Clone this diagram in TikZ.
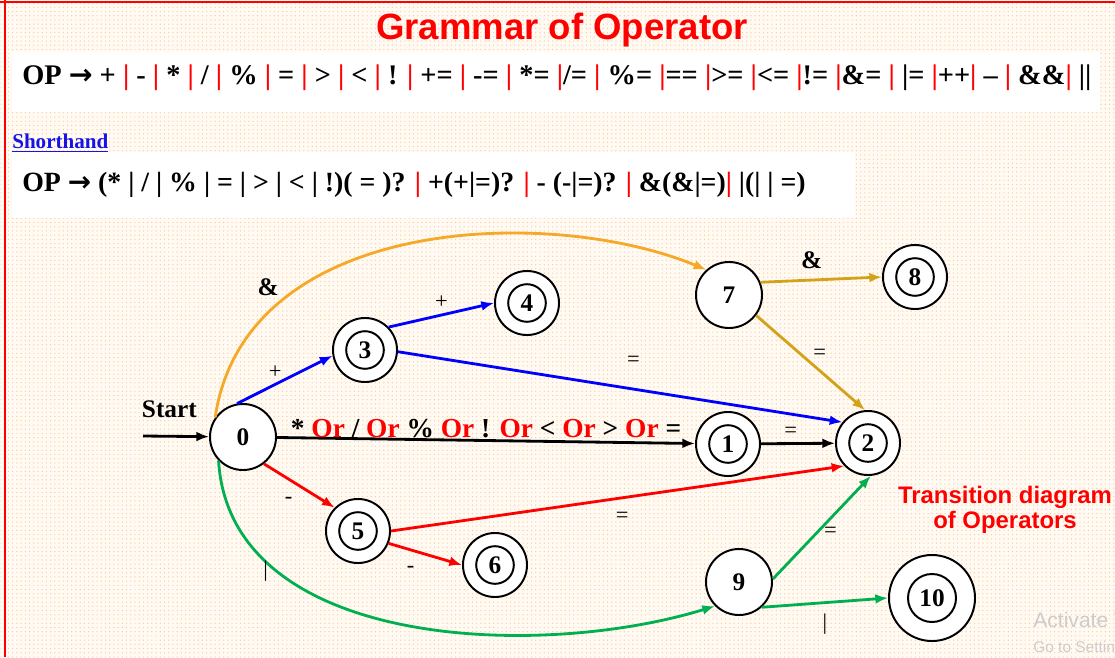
\documentclass[tikz,border=0pt]{standalone}
\usepackage{fontspec}
\setmainfont{Liberation Serif}
\setsansfont{Liberation Sans}
\newfontfamily\arrowfont{DejaVu Sans}
\usetikzlibrary{positioning,arrows.meta,patterns}

\definecolor{opred}{RGB}{255,0,0}
\definecolor{opblue}{RGB}{0,0,255}
\definecolor{opgreen}{RGB}{0,176,80}
\definecolor{oporange}{RGB}{246,168,40}
\definecolor{opgold}{RGB}{212,162,26}
\definecolor{opcream}{RGB}{255,251,244}
\definecolor{oplink}{RGB}{20,20,230}

\newcommand{\rb}{\textcolor{opred}{|}}
\newcommand{\orw}{\textcolor{opred}{Or}}
\newcommand{\opto}{{\arrowfont\bfseries →}}

\begin{document}
\begin{tikzpicture}[x=0.025cm, y=-0.025cm,
  state/.style={circle, draw, line width=1.4pt, fill=white, inner sep=0pt,
                minimum size=1.65cm, font=\fontsize{18}{18}\selectfont\bfseries},
  accept/.style={state, minimum size=1.6cm,
                 path picture={\draw[line width=1.4pt] (path picture bounding box.center) circle (0.47cm);}},
  bigaccept/.style={state, minimum size=2.15cm,
                 path picture={\draw[line width=1.4pt] (path picture bounding box.center) circle (0.6cm);}},
  arr/.style={-{Latex[length=9pt,width=7pt]}, line width=2pt},
  lbl/.style={font=\fontsize{16}{16}\selectfont, text=black, inner sep=1pt},
  blbl/.style={font=\fontsize{18}{18}\selectfont\bfseries, text=black, inner sep=1pt},
  gram/.style={anchor=west, inner sep=0pt, font=\fontsize{20.2}{22}\selectfont\bfseries},
]
\useasboundingbox (0,0) rectangle (1115,657);
\clip (0,0) rectangle (1115,657);

% background, white strips and red frame
\fill[opcream] (0,0) rectangle (1115,657);
\fill[pattern=dots, pattern color=orange!40] (0,0) rectangle (1115,657);
\fill[white] (12,52) rectangle (1100,112);
\fill[white] (12,152) rectangle (855,218);
\draw[opred, line width=1.5pt] (5,0) -- (5,657);
\draw[opred, line width=1.5pt] (0,2) -- (1115,2);

% headings and grammar
\node[font=\fontsize{26}{26}\selectfont\sffamily\bfseries, text=opred] (title) at (562,30) {Grammar of Operator};
\node[gram] (grammar) at (22,78) {OP \opto{} + \rb{} - \rb{} * \rb{} / \rb{} \% \rb{} = \rb{} > \rb{} < \rb{} ! \rb{} += \rb{} -= \rb{} *= \rb/= \rb{} \%= \rb== \rb>= \rb<= \rb!= \rb\&= \rb{} |= \rb++\rb{} -- \rb{} \&\&\rb{} ||};
\node[anchor=west, inner sep=0pt, font=\fontsize{15}{15}\selectfont\bfseries, text=oplink] (short) at (12,143) {\underline{Shorthand}};
\node[gram, font=\fontsize{19.8}{22}\selectfont\bfseries] (shorthand) at (22,185) {OP \opto{} (* | / | \% | = | > | < | !)( = )? \rb{} +(+|=)? \rb{} - (-|=)? \rb{} \&(\&|=)\rb{} |(| | =)};
\node[font=\fontsize{17}{18}\selectfont\sffamily\bfseries, text=opred, align=center] (caption) at (1005,510) {Transition diagram\\of Operators};

% states
\node[state]     (n0)  at (243,437) {0};
\node[accept]    (n1)  at (728,444) {1};
\node[accept]    (n2)  at (868,443) {2};
\node[accept]    (n3)  at (365,350) {3};
\node[accept]    (n4)  at (527,303) {4};
\node[accept]    (n5)  at (358,531) {5};
\node[accept]    (n6)  at (495,565) {6};
\node[state]     (n7)  at (729,295) {7};
\node[accept]    (n8)  at (915,277) {8};
\node[state]     (n9)  at (739,582) {9};
\node[bigaccept] (n10) at (932,598) {10};

\coordinate (start) at (143,436);
\draw[arr] (start) -- node[pos=0.4, above=12pt, font=\fontsize{18}{18}\selectfont\bfseries, inner sep=0pt]{Start} (n0);

% + branch
\draw[arr, opblue] (n0.100) -- node[lbl, pos=0.4, above=2pt]{+} (n3.190);
\draw[arr, opblue] (n3.44) -- node[lbl, pos=0.5, above=3pt]{+} (n4.west);
\draw[arr, opblue] (n3.-3) -- node[lbl, pos=0.53, above=14pt]{=} (n2.141);

% single char branch
\draw[arr] (n0) -- node[pos=0.5, above, inner sep=1pt, font=\fontsize{19.5}{19.5}\selectfont\bfseries]{* \orw{} / \orw{} \% \orw{} ! \orw{} < \orw{} > \orw{} =} (n1);
\draw[arr] (n1) -- node[lbl, pos=0.4, above=2pt]{=} (n2);

% - branch
\draw[arr, opred] (n0.-52) -- node[lbl, pos=0.35, below=11pt]{-} (n5.135);
\draw[arr, opred] (n5.-22) -- node[lbl, pos=0.3, below=10pt]{-} (n6.west);
\draw[arr, opred] (n5.east) -- node[lbl, pos=0.51, below=8pt]{=} (n2.224);

% & branch
\draw[arr, oporange] (n0.145) .. controls (245,215) and (550,205) .. node[blbl, pos=0.25, above left=1pt]{\&} (n7.132);
\draw[arr, opgold] (n7.22) -- node[blbl, pos=0.42, above=6pt]{\&} (n8.west);
\draw[arr, opgold] (n7.-37) -- node[lbl, pos=0.5, above right=0pt]{=} (n2.95);

% | branch
\draw[arr, opgreen] (n0.224) .. controls (230,650) and (540,660) .. node[lbl, pos=0.25, left=4pt]{|} (n9.225);
\draw[arr, opgreen] (n9.5) -- node[lbl, pos=0.45, right=3pt]{=} (n2.-85);
\draw[arr, opgreen] (n9.-48) -- node[lbl, pos=0.5, below=6pt]{|} (n10.west);

% screen watermark
\node[anchor=west, inner sep=0pt, font=\fontsize{15}{15}\selectfont\sffamily, text=gray!40] (wm1) at (1033,620) {Activate Windows};
\node[anchor=west, inner sep=0pt, font=\fontsize{11}{11}\selectfont\sffamily, text=gray!40] (wm2) at (1033,648) {Go to Settings to activate Windows.};
\end{tikzpicture}
\end{document}
